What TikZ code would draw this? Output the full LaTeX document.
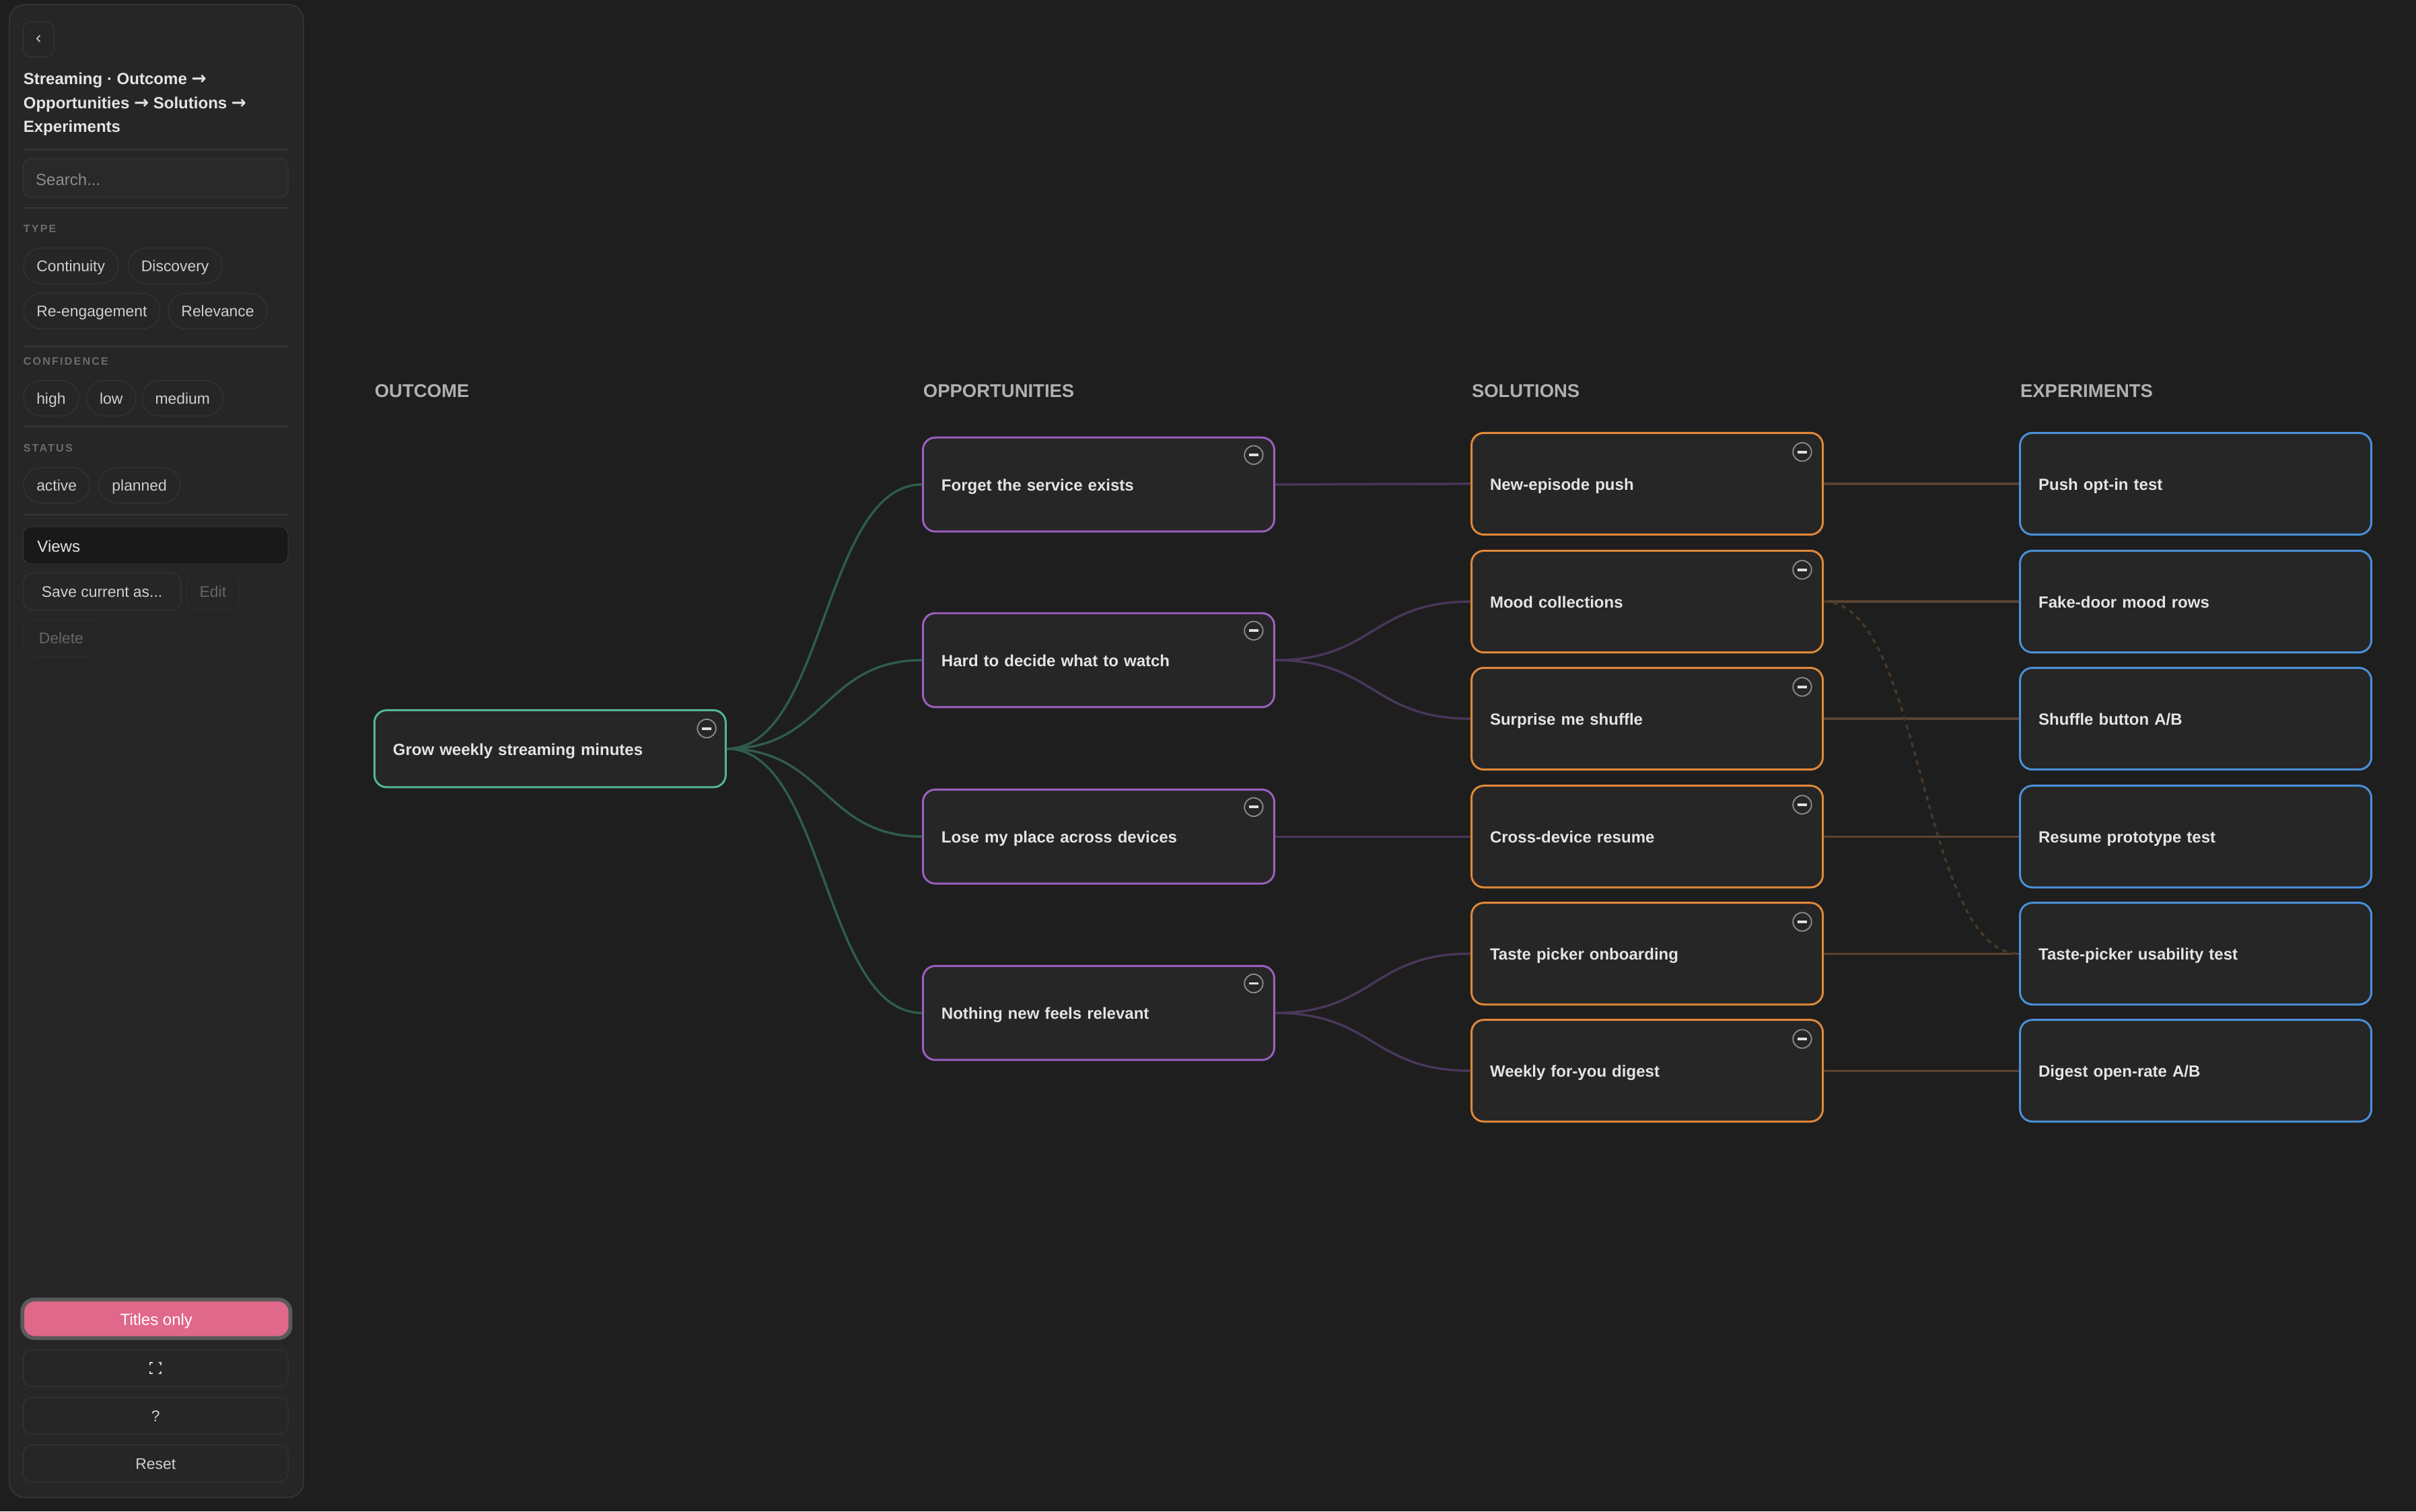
\documentclass[tikz,border=0pt]{standalone}
\usepackage{fontspec}
\setmainfont{Liberation Sans}
\newfontfamily\spacedfont[LetterSpace=14]{Liberation Sans}
\newfontfamily\arrowfont{DejaVu Sans}
\newcommand{\rarr}{{\arrowfont\fontsize{11.5}{12}\selectfont →}}
\definecolor{bgc}{HTML}{1E1E1E}
\definecolor{panelc}{HTML}{262626}
\definecolor{panelline}{HTML}{353535}
\definecolor{divc}{HTML}{383838}
\definecolor{cardfill}{HTML}{262626}
\definecolor{cardtext}{HTML}{E4E4E4}
\definecolor{greenc}{HTML}{52B69A}
\definecolor{purplec}{HTML}{9B5FC0}
\definecolor{orangec}{HTML}{E0883A}
\definecolor{bluec}{HTML}{4A90D9}
\definecolor{gedge}{HTML}{2F5C4C}
\definecolor{pedge}{HTML}{4A3759}
\definecolor{oedge}{HTML}{5B4330}
\definecolor{dedge}{HTML}{4A3828}
\definecolor{pinkc}{HTML}{E0688A}
\definecolor{ringc}{HTML}{5A5A5A}
\definecolor{headc}{HTML}{B0B0B0}
\definecolor{pilltext}{HTML}{CFCFCF}
\definecolor{dimtext}{HTML}{666666}
\definecolor{labelc}{HTML}{6C6C6C}
\begin{document}
\begin{tikzpicture}[x=1pt,y=-1pt,
  card/.style={draw, line width=1.3pt, rounded corners=8pt, fill=cardfill,
    text width=204pt, align=left, inner xsep=12pt, inner ysep=0pt,
    text height=9pt, text depth=0.8pt,
    font=\bfseries\fontsize{10.5}{12}\selectfont, text=cardtext},
  outc/.style={card, draw=greenc, minimum height=50pt},
  oppc/.style={card, draw=purplec, minimum height=61pt},
  solc/.style={card, draw=orangec, minimum height=66pt},
  expc/.style={card, draw=bluec, minimum height=66pt},
  minusbtn/.style={circle, draw=black!45!white, line width=0.8pt, minimum size=12pt, inner sep=0pt,
    path picture={\draw[white!88!black, line width=1.7pt] ([xshift=-3pt]path picture bounding box.center) -- ([xshift=3pt]path picture bounding box.center);}},
  gline/.style={draw=gedge, line width=1.5pt},
  pline/.style={draw=pedge, line width=1.5pt},
  oline/.style={draw=oedge, line width=1.5pt},
  dline/.style={draw=dedge, line width=1.5pt, dash pattern=on 3pt off 3pt},
  colhead/.style={anchor=west, inner sep=0pt, text=headc, font=\bfseries\fontsize{12}{14}\selectfont},
  pill/.style={anchor=west, draw=divc, fill=panelc, rounded corners=11.5pt, minimum height=23pt,
    inner xsep=8.5pt, inner ysep=0pt, text height=8.2pt, text depth=0.8pt,
    text=pilltext, font=\fontsize{10}{12}\selectfont},
  seclabel/.style={anchor=west, inner sep=0pt, text=labelc, font=\spacedfont\bfseries\fontsize{7}{8}\selectfont},
  sbtn/.style={draw=divc, fill=panelc, rounded corners=6pt, minimum height=24pt, inner ysep=0pt,
    text height=8.2pt, text depth=0.8pt,
    text=pilltext, font=\fontsize{10}{12}\selectfont},
  divl/.style={draw=divc, line width=0.8pt}
]
% background
\fill[bgc] (0,0) rectangle (1568,981);
\useasboundingbox (0,0) rectangle (1568,981);

% ---------- sidebar ----------
\draw[panelline, fill=panelc, line width=0.8pt, rounded corners=10pt] (6,3) rectangle (197,972);
\node[draw=divc, fill=panelc, rounded corners=5pt, minimum width=20pt, minimum height=23pt, inner sep=0pt,
  text=pilltext, font=\fontsize{11}{12}\selectfont] (back) at (25,25.5) {‹};
\node[anchor=north west, inner sep=0pt, align=left, text=cardtext,
  font=\bfseries\fontsize{10.5}{15.6}\selectfont] (title) at (15,47)
  {Streaming · Outcome \rarr\\Opportunities \rarr{} Solutions \rarr\\Experiments};
\draw[divl] (15,97) -- (187,97);
\node[draw=divc, fill=white!16!black, rounded corners=5pt, minimum width=172pt, minimum height=25pt,
  inner sep=0pt] (search) at (101,115.5) {};
\node[anchor=west, inner sep=0pt, text=black!45!white, font=\fontsize{10.5}{12}\selectfont] (searchtxt) at (23,116.5) {Search...};
\draw[divl] (15,135) -- (187,135);
\node[seclabel] (ltype) at (15,148.5) {TYPE};
\node[pill] (p1) at (15,172.5) {Continuity};
\node[pill] (p2) at (83,172.5) {Discovery};
\node[pill] (p3) at (15,202) {Re-engagement};
\node[pill] (p4) at (109,202) {Relevance};
\draw[divl] (15,225) -- (187,225);
\node[seclabel] (lconf) at (15,234.5) {CONFIDENCE};
\node[pill] (p5) at (15,258.5) {high};
\node[pill] (p6) at (56,258.5) {low};
\node[pill] (p7) at (92,258.5) {medium};
\draw[divl] (15,277) -- (187,277);
\node[seclabel] (lstat) at (15,291) {STATUS};
\node[pill] (p8) at (15,315) {active};
\node[pill] (p9) at (64,315) {planned};
\draw[divl] (15,334) -- (187,334);
\node[draw=divc, fill=white!10!black, rounded corners=5pt, minimum width=172pt, minimum height=24pt,
  inner sep=0pt] (views) at (101,354) {};
\node[anchor=west, inner sep=0pt, text=cardtext, font=\fontsize{10.5}{12}\selectfont] (viewstxt) at (24,354.5) {Views};
\node[sbtn, anchor=west, minimum width=102pt] (save) at (15,384) {Save current as...};
\node[sbtn, anchor=west, minimum width=34pt, draw=white!18!black, text=dimtext] (edit) at (121,384) {Edit};
\node[sbtn, anchor=west, minimum width=49pt, draw=white!18!black, text=dimtext] (del) at (15,414) {Delete};

% bottom buttons
\node[draw=ringc, line width=2.5pt, fill=pinkc, rounded corners=8pt,
  minimum width=174pt, minimum height=25pt, inner sep=0pt, text=white,
  text height=8.8pt, text depth=0.8pt,
  font=\fontsize{10.5}{12}\selectfont] (titles) at (101.5,856) {Titles only};
\node[sbtn, minimum width=172pt] (full) at (101,888) {};
\draw[pilltext, line width=0.8pt]
  (97.5,886) -- (97.5,884.5) -- (99,884.5)
  (103,884.5) -- (104.5,884.5) -- (104.5,886)
  (104.5,890) -- (104.5,891.5) -- (103,891.5)
  (99,891.5) -- (97.5,891.5) -- (97.5,890);
\node[sbtn, minimum width=172pt] (help) at (101,919) {?};
\node[sbtn, minimum width=172pt] (reset) at (101,950) {Reset};

% ---------- column headers ----------
\node[colhead] (h1) at (243,254) {OUTCOME};
\node[colhead] (h2) at (599,254) {OPPORTUNITIES};
\node[colhead] (h3) at (955,254) {SOLUTIONS};
\node[colhead] (h4) at (1311,254) {EXPERIMENTS};

% ---------- nodes ----------
\node[outc] (out) at (357,486) {Grow weekly streaming minutes};

\node[oppc] (o1) at (713,314.5) {Forget the service exists};
\node[oppc] (o2) at (713,428.5) {Hard to decide what to watch};
\node[oppc] (o3) at (713,543) {Lose my place across devices};
\node[oppc] (o4) at (713,657.5) {Nothing new feels relevant};

\node[solc] (s1) at (1069,314) {New-episode push};
\node[solc] (s2) at (1069,390.5) {Mood collections};
\node[solc] (s3) at (1069,466.5) {Surprise me shuffle};
\node[solc] (s4) at (1069,543) {Cross-device resume};
\node[solc] (s5) at (1069,619) {Taste picker onboarding};
\node[solc] (s6) at (1069,695) {Weekly for-you digest};

\node[expc] (e1) at (1425,314) {Push opt-in test};
\node[expc] (e2) at (1425,390.5) {Fake-door mood rows};
\node[expc] (e3) at (1425,466.5) {Shuffle button A/B};
\node[expc] (e4) at (1425,543) {Resume prototype test};
\node[expc] (e5) at (1425,619) {Taste-picker usability test};
\node[expc] (e6) at (1425,695) {Digest open-rate A/B};

% ---------- connectors ----------
\foreach \t in {o1,o2,o3,o4}
  \path[gline] (out.east) .. controls +(64,0) and +(-64,0) .. (\t.west);
\path[pline] (o1.east) -- (s1.west);
\path[pline] (o2.east) .. controls +(64,0) and +(-64,0) .. (s2.west);
\path[pline] (o2.east) .. controls +(64,0) and +(-64,0) .. (s3.west);
\path[pline] (o3.east) -- (s4.west);
\path[pline] (o4.east) .. controls +(64,0) and +(-64,0) .. (s5.west);
\path[pline] (o4.east) .. controls +(64,0) and +(-64,0) .. (s6.west);
\path[oline] (s1.east) -- (e1.west);
\path[oline] (s2.east) -- (e2.west);
\path[oline] (s3.east) -- (e3.west);
\path[oline] (s4.east) -- (e4.west);
\path[oline] (s5.east) -- (e5.west);
\path[oline] (s6.east) -- (e6.west);
\path[dline] (s2.east) .. controls +(64,0) and +(-64,0) .. (e5.west);

% ---------- minus buttons ----------
\node[minusbtn] (mout) at ([xshift=-13pt,yshift=-12.5pt]out.north east) {};
\foreach \n in {o1,o2,o3,o4}
  \node[minusbtn] (m\n) at ([xshift=-14pt,yshift=-12pt]\n.north east) {};
\foreach \n in {s1,s2,s3,s4,s5,s6}
  \node[minusbtn] (m\n) at ([xshift=-14pt,yshift=-13pt]\n.north east) {};
\end{tikzpicture}
\end{document}
